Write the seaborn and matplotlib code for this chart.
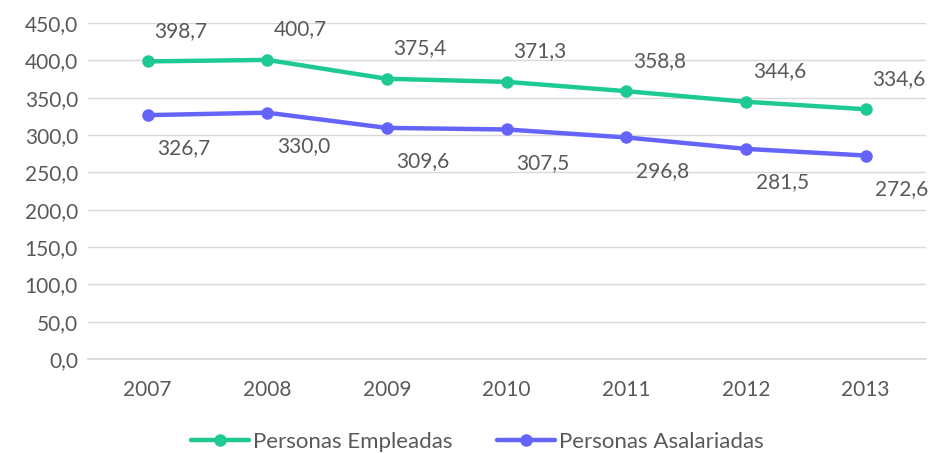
import numpy as np
import pandas as pd
import matplotlib
matplotlib.use('Agg')
import matplotlib.pyplot as plt
import seaborn as sns

years = [2007, 2008, 2009, 2010, 2011, 2012, 2013]
empleadas = [398.7, 400.7, 375.4, 371.3, 358.8, 344.6, 334.6]
asalariadas = [326.7, 330.0, 309.6, 307.5, 296.8, 281.5, 272.6]
series_names = ['Personas Empleadas', 'Personas Asalariadas']
colors = {'Personas Empleadas': '#1fc994', 'Personas Asalariadas': '#6464fa'}

sns.set_theme(style='white')
plt.rcParams['font.family'] = ['Lato', 'DejaVu Sans']

df = pd.DataFrame({
    'year': years * 2,
    'value': empleadas + asalariadas,
    'serie': [series_names[0]] * len(years) + [series_names[1]] * len(years),
})

fig = plt.figure(figsize=(9.33, 4.53), dpi=100)
ax = fig.add_axes([0.094, 0.2075, 0.898, 0.7415])

sns.lineplot(data=df, x='year', y='value', hue='serie', palette=colors,
             marker='o', markersize=9, markeredgewidth=0, linewidth=3.2, ax=ax)

text_color = '#595959'
for x, v in zip(years, empleadas):
    ax.annotate(f'{v:.1f}'.replace('.', ','), (x, v), xytext=(24, 22),
                textcoords='offset points', ha='center', va='center',
                fontsize=15, color=text_color)
for x, v in zip(years, asalariadas):
    ax.annotate(f'{v:.1f}'.replace('.', ','), (x, v), xytext=(26, -24),
                textcoords='offset points', ha='center', va='center',
                fontsize=15, color=text_color)

ax.set_xlim(2006.5, 2013.5)
ax.set_ylim(0, 450)
ax.set_xticks(years)
ax.set_xticklabels([str(y) for y in years])
yt = np.arange(0, 451, 50)
ax.set_yticks(yt)
ax.set_yticklabels([f'{t:.1f}'.replace('.', ',') for t in yt])
ax.tick_params(axis='both', length=0, labelsize=15, labelcolor=text_color)
ax.tick_params(axis='x', pad=15)
ax.tick_params(axis='y', pad=7)
ax.grid(axis='y', color='#d9d9d9', linewidth=1)
for s in ['top', 'right', 'left']:
    ax.spines[s].set_visible(False)
ax.spines['bottom'].set_color('#d9d9d9')
ax.set_xlabel('')
ax.set_ylabel('')

ax.legend(title=None, loc='lower center', bbox_to_anchor=(0.465, -0.335),
          ncol=2, frameon=False, fontsize=16, handlelength=2.6,
          columnspacing=2.0, handletextpad=0.2, labelcolor=text_color)

fig.savefig('out.png', dpi=100)
plt.close()
